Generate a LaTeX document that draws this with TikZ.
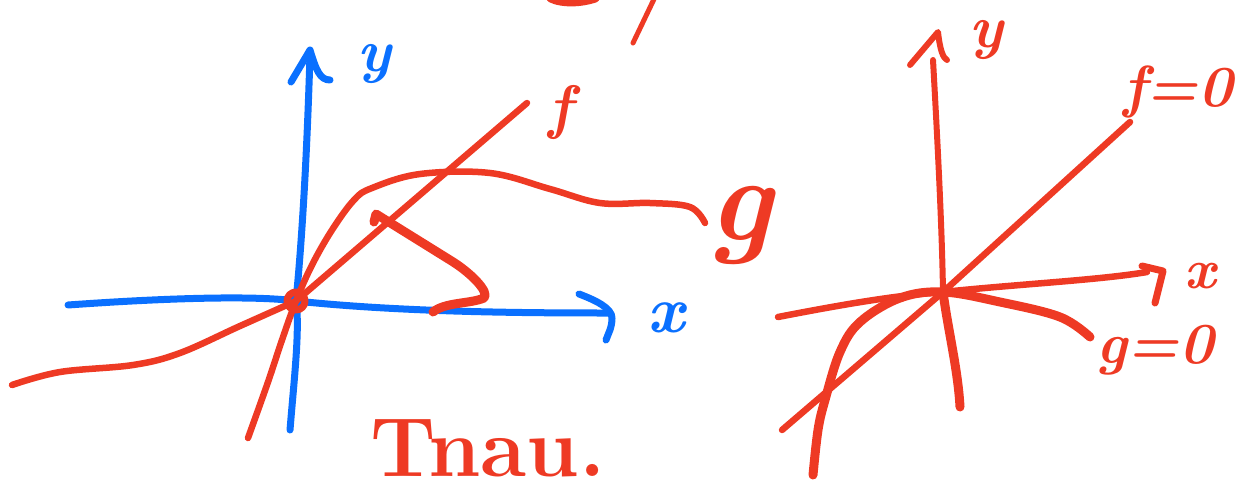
\documentclass[tikz,border=0pt]{standalone}
\definecolor{pblue}{RGB}{10,112,255}
\definecolor{pred}{RGB}{238,58,36}
\begin{document}
\begin{tikzpicture}[x=1pt,y=-1pt,line cap=round,line join=round,
  bl/.style={draw=pblue,line width=7pt},
  rd/.style={draw=pred,line width=6.5pt},
  rdthick/.style={draw=pred,line width=9pt},
  bluelab/.style={text=pblue,inner sep=0pt},
  redlab/.style={text=pred,inner sep=0pt}]
\useasboundingbox (0,0) rectangle (1249,498);
% ---------- left diagram ----------
\coordinate (O1) at (296,301);
% blue axes
\draw[bl] (68,305) .. controls (180,297) and (260,296) .. (O1) .. controls (400,312) and (520,313) .. (608,313);
\draw[bl] (579,294) .. controls (595,300) and (612,308) .. (612,318) .. controls (612,328) and (608,334) .. (606,340);
\draw[bl] (290,430) .. controls (294,380) and (300,330) .. (O1) .. controls (304,220) and (308,120) .. (310,55);
\draw[bl] (291,82) -- (310,50) .. controls (316,70) and (320,80) .. (330,80);
\node[bluelab,font=\bfseries\itshape\fontsize{60}{60}\selectfont] (ylab1) at (374,64) {y};
\node[bluelab,font=\bfseries\itshape\fontsize{66}{66}\selectfont] (xlab1) at (666,318) {x};
% red curves
\draw[rd] plot[smooth,tension=0.6] coordinates {(248,438) (268,382) (282,340) (O1) (312,265) (332,230) (354,200) (372,188) (420,174) (490,173) (550,189) (600,203) (650,203) (690,207) (705,223)};
\draw[rd] plot[smooth,tension=0.6] coordinates {(12,385) (60,372) (133,365) (180,353) (240,326) (O1)};
\draw[rd] (O1) -- (527,103);
\draw[pred,line width=7pt] (O1) circle (9);
\draw[rdthick] (374,222) -- (376,214) -- (450,260) .. controls (470,272) and (490,292) .. (484,298) .. controls (470,304) and (445,302) .. (433,312);
\node[redlab,font=\bfseries\itshape\fontsize{60}{60}\selectfont] (flab1) at (560,112) {f};
\node[redlab,font=\bfseries\itshape\fontsize{120}{120}\selectfont] (glab1) at (740,225) {g};
\node[redlab,font=\bfseries\fontsize{84}{84}\selectfont] (tnau) at (488,448) {Tnau.};
% top fragments
\draw[rd] (550,-1) .. controls (562,5) and (582,4) .. (596,-1);
\draw[rd,line width=5pt] (655,-3) -- (633,43);
% ---------- right diagram ----------
\coordinate (O2) at (943,292);
\draw[rd] (778,317) .. controls (850,303) and (900,295) .. (O2) .. controls (1020,284) and (1100,280) .. (1147,272);
\draw[rd,line width=7pt] (1142,266) -- (1163,271) -- (1155,303);
\node[redlab,font=\bfseries\itshape\fontsize{56}{56}\selectfont] (xlab2) at (1200,276) {x};
\draw[pred,line width=6pt] (933,60) .. controls (938,150) and (942,230) .. (O2);
\draw[pred,line width=9pt] (O2) .. controls (948,330) and (958,370) .. (960,407);
\draw[pred,line width=6pt] (910,65) -- (938,32) .. controls (940,50) and (943,58) .. (947,60);
\node[redlab,font=\bfseries\itshape\fontsize{60}{60}\selectfont] (ylab2) at (986,40) {y};
\draw[rd] (782,430) -- (O2) -- (1130,122);
\node[redlab,font=\bfseries\itshape\fontsize{58}{58}\selectfont] (flab2) at (1178,92) {f=0};
\draw[rdthick] plot[smooth,tension=0.6] coordinates {(813,475) (818,430) (825,400) (840,352) (860,322) (900,298) (O2) (1000,302) (1060,317) (1090,337)};
\node[redlab,font=\bfseries\itshape\fontsize{58}{58}\selectfont] (glab2) at (1155,350) {g=0};
\end{tikzpicture}
\end{document}
